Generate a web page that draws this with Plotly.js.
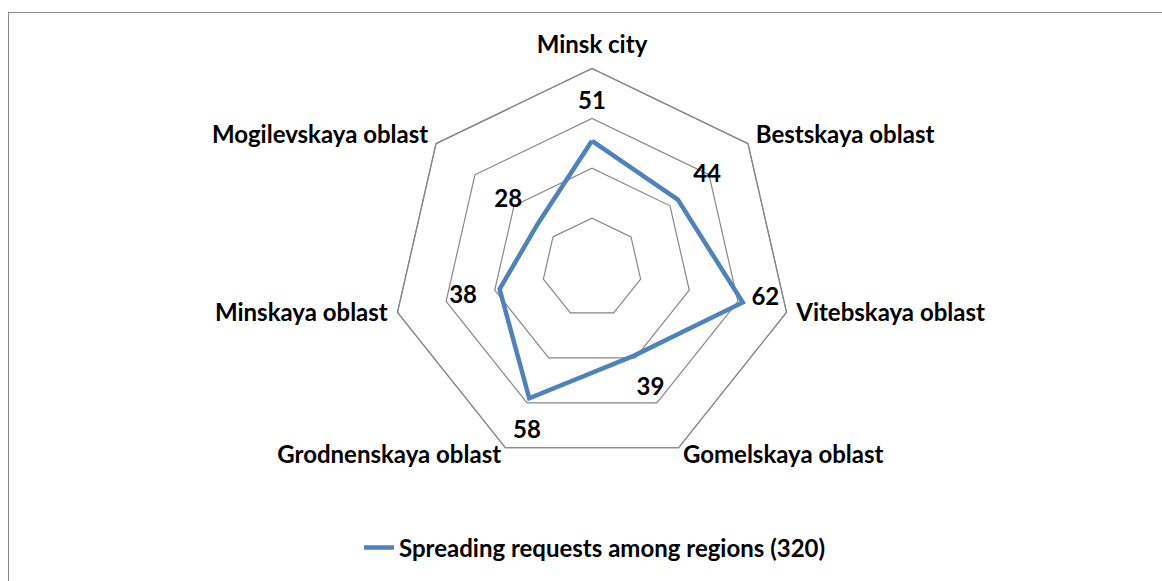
<!DOCTYPE html>
<html>
<head>
<meta charset="utf-8">
<script src="https://cdn.plot.ly/plotly-3.0.1.min.js"></script>
<style>
  html, body { margin: 0; padding: 0; background: #fff; overflow: hidden; }
  #wrap { position: relative; width: 1162px; height: 581px; }
  #chart { width: 1162px; height: 581px; }
  #frame { position: absolute; left: 8px; top: 12px; width: 1200px; height: 620px;
           border: 1.5px solid #8a8a8a; pointer-events: none; }
</style>
</head>
<body>
<div id="wrap">
  <div id="chart"></div>
  <div id="frame"></div>
</div>
<script>
const categories = ["Minsk city", "Bestskaya oblast", "Vitebskaya oblast", "Gomelskaya oblast",
                    "Grodnenskaya oblast", "Minskaya oblast", "Mogilevskaya oblast"];
const requests = [51, 44, 62, 39, 58, 38, 28];
const seriesName = "Spreading requests among regions (320)";
const gridMax = 80;
const gridStep = 20;

const FONT = "Lato, 'Liberation Sans', sans-serif";
const FSIZE = 24;
const LABEL_PAD = 15;
const CAT_PAD = 4;
const RANGE_MAX = gridMax + CAT_PAD + 1;
const labelPositions = ["middle center", "middle center", "top left", "middle center",
                        "middle right", "middle center", "middle center"];
const catPositions = ["top center", "middle right", "middle right", "middle right",
                      "middle left", "middle left", "middle left"];

const closedTheta = categories.concat([categories[0]]);
const closedR = requests.concat([requests[0]]);
const outerR = categories.map(() => gridMax).concat([gridMax]);

// layout geometry: 80 units <-> 200 px, centre at (592, 268)
const PX_PER_UNIT = 2.5;
const CX = 592, CY = 268, W = 1162, H = 581;
const RADIUS_PX = RANGE_MAX * PX_PER_UNIT;

const traces = [
  {
    type: "scatterpolar",
    mode: "lines",
    r: outerR,
    theta: closedTheta,
    line: { color: "#878787", width: 1.2 },
    showlegend: false,
    hoverinfo: "skip"
  },
  {
    type: "scatterpolar",
    mode: "lines",
    r: closedR,
    theta: closedTheta,
    name: seriesName,
    line: { color: "#4F81BD", width: 4.5 },
    showlegend: true,
    hoverinfo: "skip"
  },
  {
    type: "scatterpolar",
    mode: "text",
    r: requests.map(v => v + LABEL_PAD),
    theta: categories,
    text: requests.map(String),
    textposition: labelPositions,
    textfont: { family: FONT, size: FSIZE, color: "#000", weight: "bold" },
    showlegend: false,
    hoverinfo: "skip"
  },
  {
    type: "scatterpolar",
    mode: "text",
    r: categories.map(() => gridMax + CAT_PAD),
    theta: categories,
    text: categories,
    textposition: catPositions,
    textfont: { family: FONT, size: FSIZE, color: "#000", weight: "bold" },
    cliponaxis: false,
    showlegend: false,
    hoverinfo: "skip"
  }
];

const layout = {
  width: W,
  height: H,
  margin: { l: 2 * CX - W, r: 0, t: CY - RADIUS_PX, b: H - CY - RADIUS_PX },
  paper_bgcolor: "#fff",
  plot_bgcolor: "#fff",
  font: { family: FONT, size: FSIZE, color: "#000" },
  showlegend: true,
  legend: {
    orientation: "h",
    xref: "container", yref: "container",
    x: 359 / W, xanchor: "left",
    y: 1 - 548 / H, yanchor: "middle",
    font: { family: FONT, size: FSIZE, color: "#000", weight: "bold" },
    bgcolor: "rgba(0,0,0,0)"
  },
  polar: {
    bgcolor: "rgba(0,0,0,0)",
    gridshape: "linear",
    radialaxis: {
      range: [0, RANGE_MAX],
      tick0: 0,
      dtick: gridStep,
      showticklabels: false,
      ticks: "",
      showline: false,
      gridcolor: "#878787",
      gridwidth: 1.2
    },
    angularaxis: {
      rotation: 90,
      direction: "clockwise",
      showgrid: false,
      showline: false,
      showticklabels: false,
      ticks: ""
    }
  }
};

Plotly.newPlot("chart", traces, layout, { displayModeBar: false, staticPlot: true });
</script>
</body>
</html>
